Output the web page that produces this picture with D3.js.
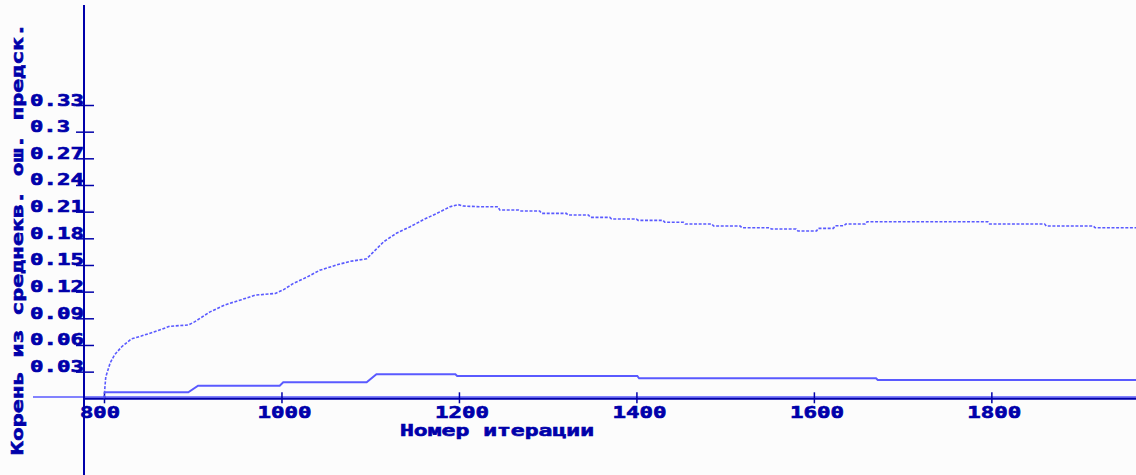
<!DOCTYPE html>
<html><head><meta charset="utf-8">
<script src="https://cdn.jsdelivr.net/npm/d3@7"></script>
<style>
html,body{margin:0;padding:0;background:#fcfcfc;}
svg{display:block;}
</style></head>
<body>
<svg id="c" width="1136" height="475"></svg>
<script>
// ---- data ----
const upperIter = [800,802,807,812,820,831,842,857,874,895,902,919,936,955,970,993,1002,1013,1028,1043,1062,1077,1096,1102,1115,1130,1145,1160,1175,1190,1199,1205,1224,1244,1246,1267,1269,1291,1293,1321,1323,1346,1348,1370,1372,1400,1402,1430,1432,1453,1455,1485,1487,1517,1519,1550,1552,1580,1582,1603,1605,1622,1624,1634,1636,1658,1660,1796,1798,1860,1862,1915,1917,1963];
const upperVal = [0,0.024,0.040,0.049,0.058,0.067,0.070,0.075,0.081,0.0825,0.086,0.097,0.105,0.111,0.116,0.118,0.122,0.129,0.136,0.144,0.150,0.154,0.157,0.163,0.176,0.186,0.193,0.201,0.208,0.2155,0.218,0.2163,0.2155,0.2155,0.2118,0.2118,0.2107,0.2107,0.2081,0.2081,0.2062,0.2062,0.2036,0.2036,0.2017,0.2017,0.2002,0.2002,0.198,0.198,0.1961,0.1961,0.1938,0.1938,0.1919,0.1919,0.1905,0.1905,0.1882,0.1882,0.1912,0.1912,0.1942,0.1942,0.1961,0.1961,0.1987,0.1987,0.1961,0.1961,0.1938,0.1938,0.1919,0.1919];
const lowerIter = [800,895,906,998,1002,1096,1107,1196,1198,1401,1403,1670,1672,1963];
const lowerVal  = [0.0068,0.0068,0.0142,0.0142,0.018,0.018,0.027,0.027,0.0251,0.0251,0.0225,0.0225,0.0206,0.0206];
const xTicks = [800,1000,1200,1400,1600,1800];
const yTicks = [0.03,0.06,0.09,0.12,0.15,0.18,0.21,0.24,0.27,0.3,0.33];
const yTickLabels = ["0.03","0.06","0.09","0.12","0.15","0.18","0.21","0.24","0.27","0.3","0.33"];
const xTitle = "Номер итерации";
const yTitle = "Корень из среднекв. ош. предск.";

// ---- drawing ----
const DARK = "#0000aa", LIGHT = "#5a5aff", FONT = "'DejaVu Sans Mono', monospace";
const ADV = 14;
const svg = d3.select("#c");
svg.append("rect").attr("width",1136).attr("height",475).attr("fill","#fcfcfc");

const x = d3.scaleLinear().domain([800,1963]).range([104,1136]);
const y = d3.scaleLinear().domain([0,0.33]).range([398.3,105]);
const axisX = 84, axisY = y(0);

function styleText(sel){
  sel.attr("font-family",FONT).attr("font-weight","bold").attr("font-size",15)
     .attr("fill",DARK).attr("stroke",DARK).attr("stroke-width",0.6)
     .attr("lengthAdjust","spacingAndGlyphs")
     .attr("textLength", function(){ return this.textContent.length*ADV - 2; });
}

// light baseline
svg.append("line").attr("x1",33).attr("x2",1136).attr("y1",axisY-1.3).attr("y2",axisY-1.3)
  .attr("stroke",LIGHT).attr("stroke-width",1.3);

// x axis
const gx = svg.append("g").attr("transform",`translate(0,${axisY})`)
  .call(d3.axisBottom(x).tickValues(xTicks).tickFormat(d3.format("d")).tickSizeOuter(0));
gx.select(".domain").remove();
gx.selectAll(".tick line").attr("y1",-6).attr("y2",5).attr("stroke",DARK).attr("stroke-width",1.5);
gx.selectAll(".tick text").attr("x",-24.5).attr("y",20).attr("dy",null).attr("text-anchor","start").call(styleText);
svg.append("line").attr("x1",axisX).attr("x2",1136).attr("y1",axisY+0.5).attr("y2",axisY+0.5)
  .attr("stroke",DARK).attr("stroke-width",2);

// y axis
const gy = svg.append("g").attr("transform",`translate(${axisX},0)`)
  .call(d3.axisLeft(y).tickValues(yTicks).tickFormat((d,i)=>yTickLabels[i]).tickSizeOuter(0));
gy.select(".domain").remove();
gy.selectAll(".tick line").attr("x1",-8).attr("x2",10).attr("stroke",DARK).attr("stroke-width",1.5);
gy.selectAll(".tick text").attr("x",30-axisX).attr("y",0).attr("dy",null).attr("text-anchor","start").call(styleText);
svg.append("line").attr("x1",axisX).attr("x2",axisX).attr("y1",5).attr("y2",475)
  .attr("stroke",DARK).attr("stroke-width",2);

// titles
svg.append("text").attr("x",400).attr("y",436).text(xTitle).call(styleText);
svg.append("text").attr("transform","translate(23,455) rotate(-90)").text(yTitle).call(styleText);

// series
const upper = upperIter.map((d,i)=>[d,upperVal[i]]);
const lower = lowerIter.map((d,i)=>[d,lowerVal[i]]);
const line = d3.line().x(d=>x(d[0])).y(d=>y(d[1])).curve(d3.curveLinear);
svg.append("path").attr("d",line(lower)).attr("fill","none").attr("stroke",LIGHT).attr("stroke-width",2);
svg.append("path").attr("d",line(upper)).attr("fill","none").attr("stroke",LIGHT).attr("stroke-width",1.6)
  .attr("stroke-dasharray","3,1.6");
</script>
</body></html>
